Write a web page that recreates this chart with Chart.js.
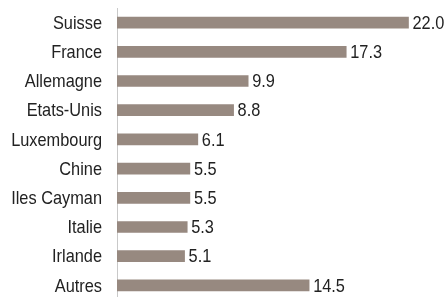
<!DOCTYPE html>
<html>
<head>
<meta charset="utf-8">
<script src="https://cdn.jsdelivr.net/npm/chart.js@4"></script>
<style>
  html, body { margin: 0; padding: 0; background: #fff; overflow: hidden; }
  #wrap { position: relative; width: 445px; height: 300px; }
</style>
</head>
<body>
<div id="wrap"><canvas id="chart"></canvas></div>
<script>
const countries = ['Suisse', 'France', 'Allemagne', 'Etats-Unis', 'Luxembourg', 'Chine', 'Iles Cayman', 'Italie', 'Irlande', 'Autres'];
const shares = [22.0, 17.3, 9.9, 8.8, 6.1, 5.5, 5.5, 5.3, 5.1, 14.5];

const FONT = "'Liberation Sans', Arial, sans-serif";
const barColor = '#978980';
const textColor = '#222222';
const narrow = 0.86; // squeeze to look like a condensed face

function narrowText(ctx, text, x, y, align) {
    ctx.save();
    ctx.translate(x, y);
    ctx.scale(narrow, 1);
    ctx.textAlign = align;
    ctx.fillText(text, 0, 0);
    ctx.restore();
}

// category names and values, drawn condensed
const narrowLabels = {
    id: 'narrowLabels',
    afterDatasetsDraw(chart) {
        const ctx = chart.ctx;
        const yScale = chart.scales.y;
        const meta = chart.getDatasetMeta(0);
        ctx.save();
        ctx.font = '19px ' + FONT;
        ctx.fillStyle = textColor;
        ctx.textBaseline = 'middle';
        chart.data.labels.forEach((label, i) => {
            narrowText(ctx, label, chart.chartArea.left - 15, yScale.getPixelForTick(i) + 1, 'right');
        });
        meta.data.forEach((bar, i) => {
            narrowText(ctx, shares[i].toFixed(1), bar.x + 4, bar.y + 1, 'left');
        });
        ctx.restore();
    }
};

new Chart(document.getElementById('chart'), {
    type: 'bar',
    data: {
        labels: countries,
        datasets: [{
            data: shares,
            backgroundColor: barColor,
            barThickness: 11
        }]
    },
    options: {
        indexAxis: 'y',
        responsive: true,
        maintainAspectRatio: false,
        animation: false,
        layout: { padding: { left: 10, right: 10, top: 8, bottom: 0 } },
        scales: {
            x: {
                display: false,
                min: 0,
                max: 24
            },
            y: {
                grid: { display: false, drawTicks: false },
                border: { display: true, color: '#c9c9c9', width: 1 },
                ticks: { display: false },
                afterFit(scale) {
                    scale.width = 107;
                    scale.paddingTop = 0;
                    scale.paddingBottom = 0;
                }
            }
        },
        plugins: {
            legend: { display: false },
            tooltip: { enabled: false }
        }
    },
    plugins: [narrowLabels]
});
</script>
</body>
</html>
